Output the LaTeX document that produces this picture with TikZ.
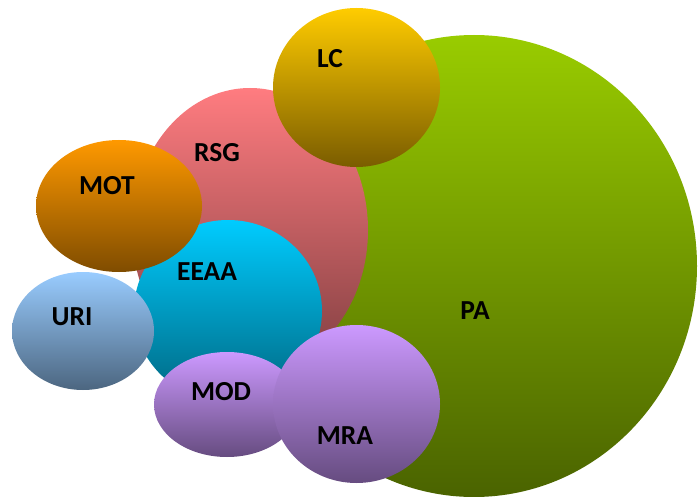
\documentclass[tikz,border=0pt]{standalone}
\usepackage{fontspec}
\setmainfont{Carlito}
\usetikzlibrary{shapes.geometric}
\tikzset{
  bubble/.style={ellipse, inner sep=0pt, draw=none},
  lbl/.style={font=\fontsize{27.5}{27.5}\selectfont\bfseries, text=black, inner sep=0pt}
}
\begin{document}
\begin{tikzpicture}[x=1pt,y=-1pt]
\useasboundingbox (0,0) rectangle (698,497);
% bubbles (back to front)
\node[bubble, minimum width=446pt, minimum height=462pt, top color={rgb,255:red,153;green,204;blue,0}, bottom color={rgb,255:red,74;green,99;blue,0}] (pa) at (474,266) {};
\node[bubble, minimum width=236pt, minimum height=284pt, top color={rgb,255:red,255;green,124;blue,128}, bottom color={rgb,255:red,127;green,62;blue,64}] (rsg) at (250,230) {};
\node[bubble, minimum width=167pt, minimum height=159pt, top color={rgb,255:red,255;green,204;blue,0}, bottom color={rgb,255:red,122;green,92;blue,0}] (lc) at (356.5,87.5) {};
\node[bubble, minimum width=188pt, minimum height=182pt, top color={rgb,255:red,0;green,204;blue,255}, bottom color={rgb,255:red,0;green,102;blue,128}] (eeaa) at (228,311) {};
\node[bubble, minimum width=166pt, minimum height=132pt, top color={rgb,255:red,255;green,153;blue,0}, bottom color={rgb,255:red,127;green,76;blue,0}] (mot) at (119,206) {};
\node[bubble, minimum width=142pt, minimum height=118pt, top color={rgb,255:red,153;green,204;blue,255}, bottom color={rgb,255:red,76;green,102;blue,128}] (uri) at (83,331) {};
\node[bubble, minimum width=146pt, minimum height=105pt, top color={rgb,255:red,204;green,153;blue,255}, bottom color={rgb,255:red,102;green,76;blue,128}] (mod) at (227,404.5) {};
\node[bubble, minimum width=167pt, minimum height=158pt, top color={rgb,255:red,204;green,153;blue,255}, bottom color={rgb,255:red,102;green,76;blue,128}] (mra) at (356.5,404) {};
% labels
\node[lbl] (tpa) at (475,311) {PA};
\node[lbl] (trsg) at (217,153) {RSG};
\node[lbl] (tlc) at (330,59) {LC};
\node[lbl] (teeaa) at (207,272) {EEAA};
\node[lbl] (tmot) at (107,186) {MOT};
\node[lbl] (turi) at (72,317) {URI};
\node[lbl] (tmod) at (221,392) {MOD};
\node[lbl] (tmra) at (345,436) {MRA};
\end{tikzpicture}
\end{document}
